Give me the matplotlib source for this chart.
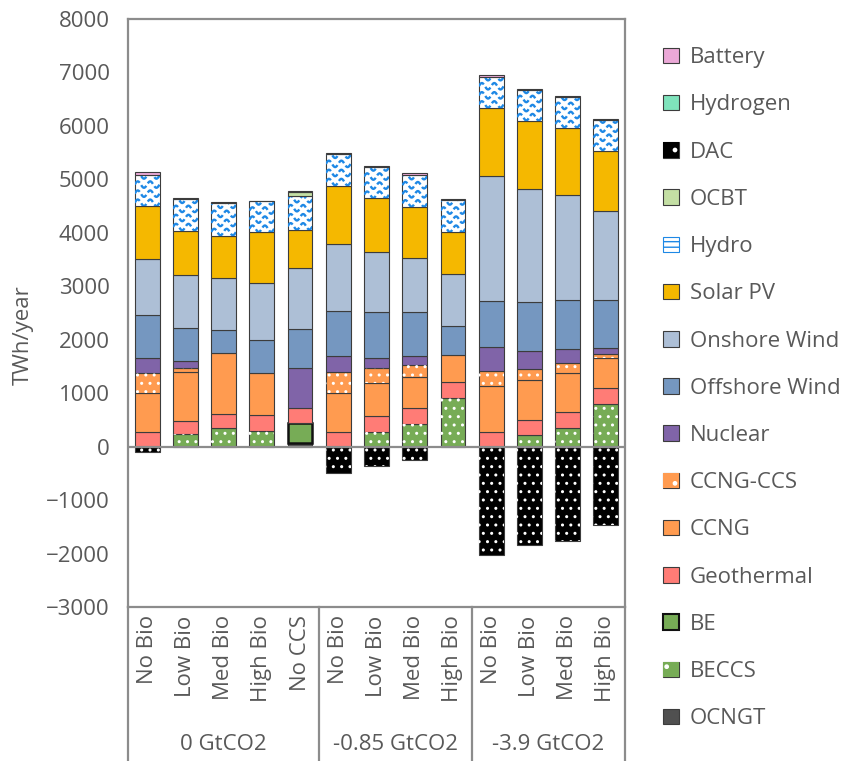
import numpy as np
import matplotlib.pyplot as plt
from matplotlib.patches import Patch

plt.rcParams['font.family'] = ['Open Sans', 'DejaVu Sans']
plt.rcParams['hatch.linewidth'] = 1.0

# scenario labels
cases = ['No Bio', 'Low Bio', 'Med Bio', 'High Bio', 'No CCS',
         'No Bio', 'Low Bio', 'Med Bio', 'High Bio',
         'No Bio', 'Low Bio', 'Med Bio', 'High Bio']
groups = ['0 GtCO2', '-0.85 GtCO2', '-3.9 GtCO2']
group_sizes = [5, 4, 4]

# generation by technology, TWh/year (stack order bottom -> top)
ocngt    = [0, 0, 0, 0, 75, 0, 0, 0, 0, 0, 0, 0, 0]
beccs    = [0, 237, 349, 287, 0, 0, 275, 430, 910, 0, 212, 349, 798]
be       = [0, 0, 0, 0, 365, 0, 0, 0, 0, 0, 0, 0, 0]
geo      = [275, 249, 262, 299, 283, 275, 292, 293, 292, 275, 293, 293, 299]
ccng     = [728, 903, 1140, 791, 0, 728, 623, 579, 505, 865, 747, 735, 560]
ccng_ccs = [374, 81, 0, 0, 0, 386, 274, 231, 0, 268, 200, 187, 75]
nuclear  = [280, 137, 0, 0, 747, 299, 193, 155, 0, 455, 330, 262, 112]
offshore = [810, 611, 430, 617, 729, 842, 860, 829, 555, 866, 922, 922, 904]
onshore  = [1047, 984, 965, 1065, 1141, 1258, 1115, 1003, 966, 2324, 2118, 1962, 1663]
solar    = [978, 835, 798, 947, 710, 1091, 1010, 960, 778, 1278, 1271, 1253, 1127]
hydro    = [592, 599, 611, 580, 642, 591, 585, 610, 611, 591, 580, 573, 574]
ocbt     = [0, 0, 0, 0, 68, 0, 0, 0, 0, 0, 0, 0, 0]
hydrogen = [0, 0, 0, 0, 0, 0, 0, 0, 0, 0, 0, 0, 0]
battery  = [60, 15, 15, 10, 20, 15, 31, 25, 10, 25, 25, 25, 10]
dac      = [-110, 0, 0, 0, 0, -490, -355, -243, 0, -2019, -1850, -1757, -1458]

series = [
    ('OCNGT', ocngt, '#505050', None),
    ('BECCS', beccs, '#77AC56', 'dots'),
    ('BE', be, '#77AC56', None),
    ('Geothermal', geo, '#FF7C76', None),
    ('CCNG', ccng, '#FF9B50', None),
    ('CCNG-CCS', ccng_ccs, '#FF9B50', 'dots'),
    ('Nuclear', nuclear, '#8064A8', None),
    ('Offshore Wind', offshore, '#7597C0', None),
    ('Onshore Wind', onshore, '#ADBFD6', None),
    ('Solar PV', solar, '#F5B800', None),
    ('Hydro', hydro, '#FFFFFF', 'wave'),
    ('OCBT', ocbt, '#C4DFA4', None),
    ('DAC', [0] * 13, '#000000', 'dots'),
    ('Hydrogen', hydrogen, '#7FE3BC', None),
    ('Battery', battery, '#EBA8D7', None),
]

txt = '#595959'
edge = '#3c3c3c'
fs = 16
fig = plt.figure(figsize=(8.43, 7.61), dpi=100)
ax = fig.add_axes([0.1518, 0.2024, 0.5896, 0.7727])

x = np.arange(len(cases))
w = 0.65
bottom = np.zeros(len(cases))
handles = []


def draw_waves(rect):
    x0, y0 = rect.get_x(), rect.get_y()
    bw, bh = rect.get_width(), rect.get_height()
    xs = np.linspace(x0, x0 + bw, 80)
    for yb in np.arange(y0 + 70, y0 + bh + 170, 170):
        ln, = ax.plot(xs, yb + 60 * np.sin(2 * np.pi * (xs - x0) / (bw / 2)),
                      color='#1E88E5', lw=1.7, dashes=(3, 1.2))
        ln.set_clip_path(rect)


for name, vals, col, pat in series:
    vals = np.array(vals, dtype=float)
    m = vals != 0
    lw = 1.8 if name == 'BE' else 0.8
    ec = '#111111' if name == 'BE' else edge
    if m.any():
        bars = ax.bar(x[m], vals[m], w, bottom=bottom[m], color=col,
                      edgecolor=ec, linewidth=lw, zorder=2)
        if pat == 'dots':
            ax.bar(x[m], vals[m], w, bottom=bottom[m], color='none',
                   edgecolor='white', linewidth=0, hatch='..', zorder=3)
        if pat == 'wave':
            for r in bars:
                draw_waves(r)
    bottom += vals
    if pat == 'dots':
        h = Patch(facecolor=col, edgecolor='white', hatch='.', linewidth=0)
        h = (Patch(facecolor=col, edgecolor=edge, linewidth=0.8), h)
    elif pat == 'wave':
        h = Patch(facecolor='white', edgecolor='#1E88E5', hatch='---', linewidth=0.8)
    else:
        h = Patch(facecolor=col, edgecolor=ec, linewidth=0.8 if name != 'BE' else 1.5)
    handles.append((name, h))

# negative DAC
dac = np.array(dac, dtype=float)
m = dac != 0
ax.bar(x[m], dac[m], w, color='#000000', edgecolor=edge, linewidth=0.8, zorder=2)
ax.bar(x[m], dac[m], w, color='none', edgecolor='white', linewidth=0,
       hatch='..', zorder=3)

ax.axhline(0, color='#8c8c8c', lw=1.6, zorder=4)
ax.set_xlim(-0.5, len(cases) - 0.5)
ax.set_ylim(-3000, 8000)
ax.set_yticks(np.arange(-3000, 8001, 1000))
ax.tick_params(axis='y', length=0, pad=13, labelsize=fs, labelcolor=txt)
ax.set_xticks(x)
ax.set_xticklabels(cases, rotation=90, fontsize=fs, color=txt)
ax.tick_params(axis='x', length=0, pad=6)
for s in ax.spines.values():
    s.set_color('#8c8c8c')
    s.set_linewidth(1.6)

ax.set_ylabel('TWh/year', fontsize=fs, color=txt)
ax.yaxis.set_label_coords(-0.19, 0.4626)

# category group separators and labels
tr = ax.get_xaxis_transform()
edges = np.concatenate([[0], np.cumsum(group_sizes)]) - 0.5
for e in edges:
    ax.plot([e, e], [0, -0.27], transform=tr, color='#8c8c8c', lw=1.6,
            clip_on=False)
for g, a, b in zip(groups, edges[:-1], edges[1:]):
    ax.text((a + b) / 2, -0.2347, g, transform=tr, ha='center', va='center',
            fontsize=fs, color=txt)

handles = handles[::-1]
leg = fig.legend([h for _, h in handles], [n for n, _ in handles],
                 loc='upper left', bbox_to_anchor=(0.787, 0.938),
                 frameon=False, fontsize=fs, labelcolor=txt,
                 handlelength=0.7, handleheight=0.7, handletextpad=0.5,
                 labelspacing=1.18, borderpad=0, borderaxespad=0)

fig.savefig('out.png', dpi=100)
